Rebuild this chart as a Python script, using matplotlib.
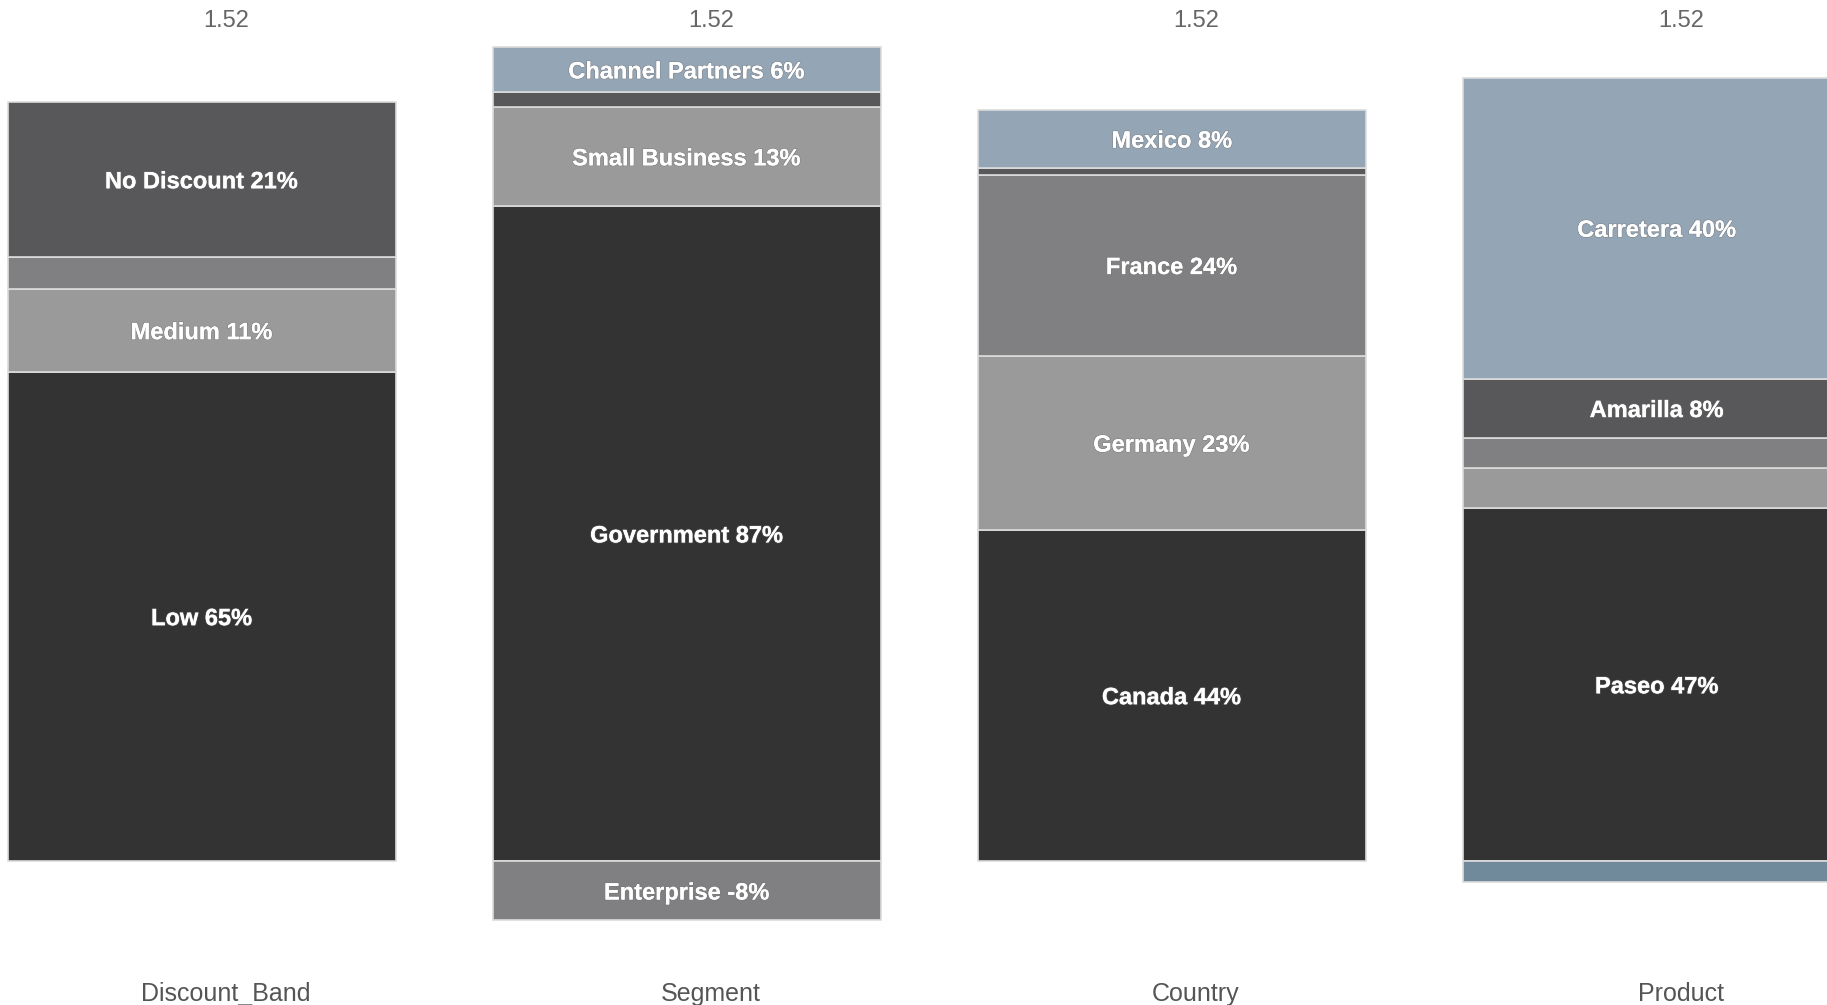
import matplotlib.pyplot as plt
import matplotlib.patheffects as pe

plt.rcParams["font.family"] = ["Liberation Sans", "DejaVu Sans"]

categories = ["Discount_Band", "Segment", "Country", "Product"]
totals = ["1.52", "1.52", "1.52", "1.52"]

discount_names = ["Low", "Medium", "High", "No Discount"]
discount_vals = [65.0, 11.0, 4.2, 20.7]

segment_names = ["Government", "Small Business", "Enterprise", "Midmarket", "Channel Partners"]
segment_vals = [87.0, 13.2, -7.9, 2.0, 5.9]

country_names = ["Canada", "Germany", "France", "United States of America", "Mexico"]
country_vals = [44.0, 23.1, 24.1, 0.9, 7.7]

product_names = ["Paseo", "Velo", "VTT", "Amarilla", "Carretera", "Montana"]
product_vals = [46.9, 5.3, 4.0, 7.9, 40.0, -2.8]

colors = ["#333333", "#999a99", "#808082", "#58585a", "#94a5b5", "#718a9b"]

groups = [(discount_names, discount_vals), (segment_names, segment_vals),
          (country_names, country_vals), (product_names, product_vals)]

fig = plt.figure(figsize=(18.27, 10.05), dpi=100)
ax = fig.add_axes([0, 0, 1, 1])

for i, (names, vals) in enumerate(groups):
    pos, neg = 0.0, 0.0
    for j, (name, v) in enumerate(zip(names, vals)):
        if v >= 0:
            bottom = pos
            pos += v
        else:
            bottom = neg + v
            neg += v
        ax.bar(i, abs(v), bottom=bottom, width=0.8, color=colors[j],
               edgecolor="#dcdcdc", linewidth=1.2)
        if abs(v) >= 5.5:
            t = ax.text(i, bottom + abs(v) / 2 - 0.3, "%s %d%%" % (name, round(v)),
                        ha="center", va="center", color="white",
                        fontsize=17, fontweight="bold")
            t.set_path_effects([pe.withStroke(linewidth=1.2, foreground="#777777", alpha=0.5),
                                pe.Normal()])
    ax.text(i + 0.05, 111.6, totals[i], ha="center", va="center",
            color="#666666", fontsize=17)
    ax.text(i + 0.05, -17.65, categories[i], ha="center", va="center",
            color="#555555", fontsize=18)

ax.set_xlim(-0.4157, 3.351)
ax.set_ylim(-19.13, 114.4)
ax.axis("off")

fig.savefig("out.png", dpi=100)
